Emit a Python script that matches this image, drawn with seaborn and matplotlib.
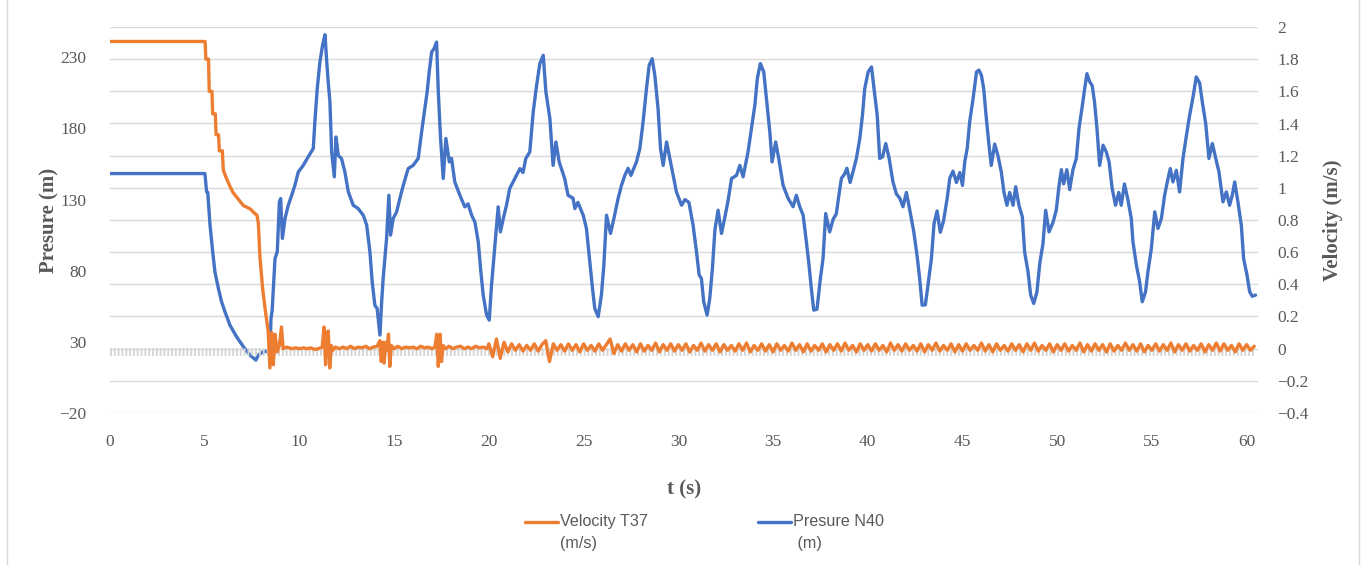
import numpy as np
import pandas as pd
import matplotlib
matplotlib.use("Agg")
import matplotlib.pyplot as plt
import seaborn as sns
from matplotlib.lines import Line2D
from matplotlib.patches import Rectangle
from matplotlib.legend_handler import HandlerLine2D

# ---------------- data ----------------
pres_t = [0.0, 5.01, 5.10, 5.16, 5.28, 5.42, 5.54, 5.72, 5.89, 6.07, 6.33, 6.68, 7.04, 7.39, 7.70,
          7.83, 8.09, 8.44, 8.50, 8.56, 8.71, 8.83, 8.94, 9.01, 9.10, 9.24, 9.41, 9.59, 9.76, 9.94,
          10.20, 10.46, 10.73, 10.82, 10.94, 11.08, 11.22, 11.35, 11.43, 11.52, 11.61, 11.70, 11.84,
          11.93, 12.05, 12.22, 12.40, 12.58, 12.84, 13.10, 13.37, 13.55, 13.72, 13.84, 13.98, 14.10,
          14.25, 14.34, 14.42, 14.60, 14.72, 14.81, 14.95, 15.13, 15.30, 15.48, 15.74, 16.00, 16.27,
          16.45, 16.62, 16.74, 16.85, 16.98, 17.10, 17.24, 17.33, 17.45, 17.59, 17.73, 17.91, 18.03,
          18.20, 18.47, 18.73, 18.90, 19.09, 19.26, 19.44, 19.56, 19.70, 19.88, 20.02, 20.14, 20.32,
          20.49, 20.61, 20.76, 20.93, 21.10, 21.37, 21.64, 21.80, 21.95, 22.16, 22.34, 22.52, 22.69,
          22.87, 23.01, 23.22, 23.39, 23.54, 23.71, 24.00, 24.18, 24.44, 24.54, 24.70, 24.98, 25.15,
          25.29, 25.47, 25.59, 25.77, 25.94, 26.07, 26.21, 26.42, 26.60, 26.82, 27.00, 27.18, 27.35,
          27.50, 27.79, 27.97, 28.14, 28.32, 28.46, 28.62, 28.76, 28.93, 29.06, 29.20, 29.38, 29.55,
          29.73, 29.90, 30.17, 30.35, 30.56, 30.78, 30.96, 31.10, 31.22, 31.34, 31.52, 31.66, 31.80,
          31.93, 32.10, 32.28, 32.46, 32.63, 32.81, 33.07, 33.25, 33.42, 33.68, 33.86, 34.04, 34.17,
          34.33, 34.51, 34.69, 34.83, 34.95, 35.14, 35.30, 35.53, 35.80, 36.06, 36.23, 36.41, 36.59,
          36.76, 36.90, 37.02, 37.15, 37.32, 37.50, 37.64, 37.78, 37.99, 38.17, 38.34, 38.49, 38.61,
          38.78, 38.90, 39.07, 39.25, 39.40, 39.58, 39.72, 39.84, 40.02, 40.20, 40.32, 40.50, 40.63,
          40.78, 40.95, 41.13, 41.33, 41.51, 41.69, 41.86, 42.04, 42.22, 42.43, 42.60, 42.74, 42.87,
          43.04, 43.18, 43.36, 43.50, 43.66, 43.83, 44.00, 44.19, 44.33, 44.50, 44.68, 44.86, 45.00,
          45.12, 45.25, 45.38, 45.56, 45.74, 45.87, 46.00, 46.12, 46.26, 46.40, 46.52, 46.70, 46.87,
          47.05, 47.19, 47.35, 47.49, 47.67, 47.81, 47.98, 48.16, 48.28, 48.46, 48.60, 48.76, 48.93,
          49.08, 49.25, 49.39, 49.57, 49.78, 49.95, 50.10, 50.22, 50.34, 50.51, 50.66, 50.83, 51.01,
          51.15, 51.33, 51.45, 51.57, 51.71, 51.85, 51.97, 52.10, 52.24, 52.42, 52.59, 52.74, 52.90,
          53.08, 53.25, 53.38, 53.55, 53.72, 53.91, 54.00, 54.18, 54.35, 54.49, 54.66, 54.79, 54.97,
          55.15, 55.32, 55.50, 55.67, 55.85, 55.97, 56.11, 56.29, 56.46, 56.64, 56.81, 56.99, 57.17,
          57.34, 57.52, 57.66, 57.84, 58.01, 58.19, 58.37, 58.54, 58.75, 58.93, 59.10, 59.24, 59.37,
          59.54, 59.72, 59.84, 60.02, 60.16, 60.30, 60.47]
pres_v = [148.3, 148.3, 135.4, 135.0, 112.0, 93.3, 79.2, 67.6, 58.2, 51.1, 41.8, 33.6, 26.6, 20.7, 17.2,
          20.7, 23.0, 23.5, 46.7, 52.0, 88.6, 93.3, 128.4, 130.7, 102.7, 116.7, 126.0, 133.0, 140.0, 149.4,
          154.0, 160.0, 165.9, 185.7, 208.0, 226.7, 238.4, 245.9, 229.0, 212.6, 198.6, 163.5, 146.0,
          174.0, 161.0, 158.9, 149.4, 135.4, 126.0, 123.7, 119.0, 112.0, 93.3, 72.2, 55.8, 53.5,
          34.8, 58.2, 74.6, 102.7, 133.0, 105.0, 116.7, 121.4, 130.7, 140.0, 151.8, 154.0, 158.9,
          177.6, 194.0, 205.6, 219.7, 233.7, 236.0, 240.7, 205.6, 172.9, 144.8, 173.0, 156.5, 158.9,
          142.4, 133.0, 124.9, 127.0, 119.0, 114.3, 100.3, 81.6, 62.9, 48.8, 45.3, 69.9, 98.0,
          124.9, 107.3, 116.7, 126.0, 137.8, 144.8, 151.8, 149.0, 158.9, 163.5, 191.6, 210.3, 225.6,
          231.4, 205.6, 187.0, 154.0, 170.5, 156.5, 144.8, 133.0, 131.0, 123.7, 128.0, 119.0, 109.7,
          91.0, 67.6, 53.5, 47.7, 62.9, 84.0, 119.0, 106.2, 116.7, 130.7, 140.0, 147.1, 152.0,
          147.0, 156.5, 165.9, 184.6, 208.0, 224.4, 229.0, 217.3, 194.0, 165.9, 154.0, 170.5, 159.0,
          147.1, 135.4, 126.0, 130.0, 128.0, 112.0, 93.3, 77.0, 74.6, 58.2, 48.8, 60.5, 81.6,
          108.5, 122.5, 106.2, 117.8, 129.6, 144.8, 147.0, 154.0, 146.0, 163.5, 179.9, 196.3, 215.0,
          225.6, 219.7, 196.3, 177.6, 156.5, 170.5, 158.9, 140.0, 130.7, 125.0, 133.0, 125.0, 119.0,
          100.3, 84.0, 67.6, 52.3, 53.0, 74.6, 88.6, 120.2, 107.3, 116.0, 120.0, 134.3, 145.0,
          148.0, 152.0, 142.0, 151.0, 158.9, 172.9, 189.2, 208.0, 219.7, 223.2, 209.1, 189.2, 158.9,
          160.0, 169.4, 158.9, 142.4, 134.0, 131.0, 125.0, 135.0, 122.5, 107.3, 91.0, 74.6, 55.8,
          56.0, 69.9, 88.6, 113.2, 122.0, 107.0, 115.0, 130.7, 145.0, 150.0, 142.0, 149.0, 140.0,
          156.5, 166.0, 184.6, 201.0, 219.7, 221.0, 217.3, 208.0, 187.0, 168.2, 154.0, 169.0, 161.0,
          149.4, 135.0, 126.0, 135.0, 126.0, 139.0, 126.0, 117.9, 93.3, 79.2, 62.9, 57.0, 65.0,
          85.1, 99.1, 122.5, 107.3, 114.0, 122.5, 140.0, 151.0, 141.0, 151.0, 137.0, 151.0, 158.9,
          179.9, 196.3, 208.0, 218.5, 213.0, 210.0, 198.6, 179.9, 154.0, 168.2, 163.5, 156.5, 137.8,
          126.0, 135.0, 126.0, 141.0, 130.7, 116.7, 100.3, 84.0, 72.3, 58.2, 65.0, 79.2, 95.6,
          121.4, 109.7, 116.7, 133.0, 144.8, 151.8, 142.4, 150.6, 135.4, 158.9, 174.0, 189.2, 202.0,
          216.2, 212.0, 198.6, 183.4, 158.9, 169.4, 158.9, 149.4, 128.4, 135.4, 126.0, 133.0, 142.4,
          128.4, 112.0, 88.6, 76.9, 65.2, 62.0, 62.9]

# velocity: closure transient and early surges (irregular times)
vel_t_early = [0.0, 5.02, 5.06, 5.20, 5.24, 5.38, 5.42, 5.56, 5.60, 5.73, 5.77, 5.93, 5.98, 6.16, 6.33,
               6.50, 6.77, 7.04, 7.39, 7.65, 7.76, 7.83, 7.92, 8.06, 8.23, 8.35, 8.44, 8.53, 8.62, 8.71,
               8.83, 8.94, 9.05, 9.14, 9.32, 9.60, 9.80, 10.00, 10.20, 10.40, 10.60, 10.80, 11.00, 11.20,
               11.30, 11.38, 11.45, 11.52, 11.60, 11.68, 11.76, 11.90, 12.10, 12.30, 12.50, 12.70, 12.90,
               13.10, 13.30, 13.50, 13.70, 13.90, 14.10, 14.25, 14.32, 14.40, 14.47, 14.55, 14.62, 14.70,
               14.77, 14.85, 15.00, 15.20, 15.40, 15.60, 15.80, 16.00, 16.20, 16.40, 16.60, 16.80, 17.00,
               17.15, 17.25, 17.33, 17.42, 17.50, 17.58, 17.70, 17.90, 18.10, 18.30, 18.50, 18.70, 18.90,
               19.10, 19.30, 19.50, 19.70, 19.90]
vel_v_early = [1.91, 1.91, 1.80, 1.80, 1.60, 1.60, 1.46, 1.46, 1.33, 1.33, 1.23, 1.23, 1.11, 1.055, 1.01,
               0.97, 0.93, 0.89, 0.87, 0.84, 0.83, 0.78, 0.56, 0.37, 0.21, 0.11, -0.12, 0.10, -0.10, 0.09,
               -0.02, 0.02, 0.135, 0.0, 0.01, 0.0, 0.005, 0.0, 0.005, 0.0, 0.005, -0.005, 0.0, 0.01,
               0.135, -0.10, 0.10, 0.11, -0.12, 0.02, -0.01, 0.01, 0.0, 0.01, 0.0, 0.015, 0.0,
               0.01, 0.005, 0.015, 0.0, 0.01, 0.015, 0.05, -0.08, 0.04, -0.09, 0.04, -0.01, 0.09,
               -0.11, 0.02, 0.0, 0.015, 0.0, 0.01, 0.005, 0.01, 0.0, 0.015, 0.005, 0.01, 0.0,
               0.01, 0.09, -0.11, 0.09, -0.08, 0.02, 0.0, 0.015, 0.0, 0.01, 0.015, 0.0, 0.01,
               0.0, 0.015, 0.005, 0.01, 0.0]
# velocity: residual fluctuation, sampled every 0.2 s from t = 20.0 s
vel_start = 20.0
vel_step = 0.2
vel_v_late = [
    0.03, -0.05, 0.06, -0.06, 0.04, -0.02, 0.03, -0.01, 0.025, -0.015,
    0.02, -0.01, 0.03, -0.015, 0.025, 0.05, -0.08, 0.03, -0.01, 0.025,
    -0.015, 0.03, -0.01, 0.025, -0.02, 0.03, -0.01, 0.02, -0.015, 0.03,
    -0.01, 0.025, 0.06, -0.03, 0.025, -0.015, 0.03, -0.01, 0.025, -0.02,
    0.03, -0.015, 0.02, -0.01, 0.035, -0.02, 0.025, -0.01, 0.03, -0.015,
    0.025, -0.01, 0.03, -0.02, 0.02, -0.01, 0.035, -0.015, 0.025, -0.01,
    0.03, -0.02, 0.025, -0.01, 0.02, -0.015, 0.03, -0.01, 0.035, -0.02,
    0.02, -0.01, 0.03, -0.015, 0.025, -0.02, 0.03, -0.01, 0.02, -0.015,
    0.035, -0.01, 0.025, -0.02, 0.03, -0.015, 0.02, -0.01, 0.03, -0.02,
    0.025, -0.01, 0.03, -0.015, 0.035, -0.01, 0.02, -0.02, 0.03, -0.01,
    0.025, -0.015, 0.03, -0.01, 0.02, -0.02, 0.035, -0.01, 0.025, -0.015,
    0.03, -0.01, 0.02, -0.015, 0.03, -0.02, 0.025, -0.01, 0.035, -0.015,
    0.02, -0.01, 0.03, -0.02, 0.025, -0.015, 0.03, -0.01, 0.02, -0.01,
    0.035, -0.015, 0.025, -0.02, 0.03, -0.01, 0.02, -0.015, 0.03, -0.01,
    0.025, -0.02, 0.03, -0.01, 0.035, -0.015, 0.02, -0.01, 0.03, -0.02,
    0.025, -0.01, 0.03, -0.015, 0.02, -0.01, 0.035, -0.02, 0.025, -0.015,
    0.03, -0.01, 0.025, -0.02, 0.03, -0.015, 0.02, -0.01, 0.035, -0.01,
    0.025, -0.015, 0.03, -0.02, 0.02, -0.01, 0.03, -0.015, 0.025, -0.01,
    0.035, -0.02, 0.025, -0.01, 0.03, -0.015, 0.02, -0.01, 0.03, -0.02,
    0.025, -0.01, 0.035, -0.015, 0.03, -0.01, 0.02, -0.02, 0.03, -0.01,
    0.025, -0.01, 0.015]

# reference band (grey hatched series)
band_t = [0.0, 60.4]
band_v = [-0.022, -0.022]

x_ticks = [0, 5, 10, 15, 20, 25, 30, 35, 40, 45, 50, 55, 60]
p_ticks = [-20, 30, 80, 130, 180, 230]
v_ticks = [-0.4, -0.2, 0, 0.2, 0.4, 0.6, 0.8, 1.0, 1.2, 1.4, 1.6, 1.8, 2.0]
v_tick_labels = ["\u22120.4", "\u22120.2", "0", "0.2", "0.4", "0.6", "0.8", "1", "1.2", "1.4", "1.6", "1.8", "2"]
p_tick_labels = ["\u221220", "30", "80", "130", "180", "230"]

ORANGE = "#ED7D31"
BLUE = "#4472C4"

vel_t_late = [vel_start + vel_step * i for i in range(len(vel_v_late))]
vel = pd.DataFrame({"t": vel_t_early + vel_t_late, "v": vel_v_early + vel_v_late})
pres = pd.DataFrame({"t": pres_t, "p": pres_v})

# ---------------- figure ----------------
sns.set_theme(style="white")
plt.rcParams['font.family'] = ['Liberation Serif', 'DejaVu Serif']

fig = plt.figure(figsize=(13.63, 5.65), dpi=100)
ax0 = fig.add_axes([110 / 1363, 1 - 413 / 565, (1258 - 110) / 1363, (413 - 27) / 565])
ax1 = ax0.twinx()   # pressure (left)
ax2 = ax0.twinx()   # velocity (right)

# grid axis
ax0.set_xlim(0, 60.6)
ax0.set_ylim(-0.4, 2.0)
ax0.set_yticks(v_ticks)
ax0.grid(axis="y", color="#d9d9d9", linewidth=1.0)
ax0.tick_params(axis="y", left=False, right=False, labelleft=False, labelright=False)
ax0.set_xticks(x_ticks)
ax0.set_xticklabels([str(x) for x in x_ticks])
ax0.tick_params(axis="x", length=0, pad=15, labelsize=12.5, colors="#595959")
for s in ax0.spines.values():
    s.set_visible(False)

# pressure
sns.lineplot(data=pres, x="t", y="p", ax=ax1, color=BLUE, linewidth=2.4, estimator=None, sort=False)
ax1.set_ylim(-20, 251.3)
ax1.yaxis.tick_left()
ax1.yaxis.set_label_position("left")
ax1.set_yticks(p_ticks)
ax1.set_yticklabels(p_tick_labels)
ax1.tick_params(axis="y", length=0, pad=17, labelsize=12.5, colors="#595959")
ax1.set_ylabel("Presure (m)", fontsize=15, fontweight="bold", color="#595959", labelpad=0)

# velocity
ax2.plot(band_t, band_v, color="#d4d4d4", linewidth=5.5, linestyle=(0, (0.25, 0.25)),
         solid_capstyle="butt", dash_capstyle="butt")
sns.lineplot(data=vel, x="t", y="v", ax=ax2, color=ORANGE, linewidth=2.4, estimator=None, sort=False)
ax2.set_ylim(-0.4, 2.0)
ax2.set_yticks(v_ticks)
ax2.set_yticklabels(v_tick_labels)
ax2.tick_params(axis="y", length=0, pad=14, labelsize=12.5, colors="#595959")
ax2.set_ylabel("Velocity (m/s)", fontsize=15, fontweight="bold", color="#595959", labelpad=10)

for a in (ax1, ax2):
    a.set_xlabel("")
    a.grid(False)
    for s in a.spines.values():
        s.set_visible(False)
ax0.set_xlabel("t (s)", fontsize=15, fontweight="bold", color="#595959", labelpad=21)


class UpLineHandler(HandlerLine2D):
    """Legend line aligned with the first text line."""
    def create_artists(self, legend, orig_handle, xdescent, ydescent, width, height, fontsize, trans):
        return super().create_artists(legend, orig_handle, xdescent, ydescent - 16.5, width, height,
                                      fontsize, trans)


# legend
handles = [Line2D([], [], color=ORANGE, linewidth=2.4), Line2D([], [], color=BLUE, linewidth=2.4)]
leg = fig.legend(handles, ["Velocity T37\n(m/s)", "Presure N40\n (m)"], loc="center",
                 bbox_to_anchor=(0.517, 0.057), ncol=2, frameon=False, columnspacing=6.8,
                 handlelength=2.05, handletextpad=0.15,
                 handler_map={Line2D: UpLineHandler()},
                 prop={"family": "Liberation Sans", "size": 11.6}, labelcolor="#595959")
for t in leg.get_texts():
    t.set_linespacing(1.6)

# chart border
fig.patches.append(Rectangle((7 / 1363, -0.01), (1359 - 7) / 1363, 1.02, transform=fig.transFigure,
                             fill=False, edgecolor="#d9d9d9", linewidth=1.0))

fig.savefig("out.png", dpi=100)
